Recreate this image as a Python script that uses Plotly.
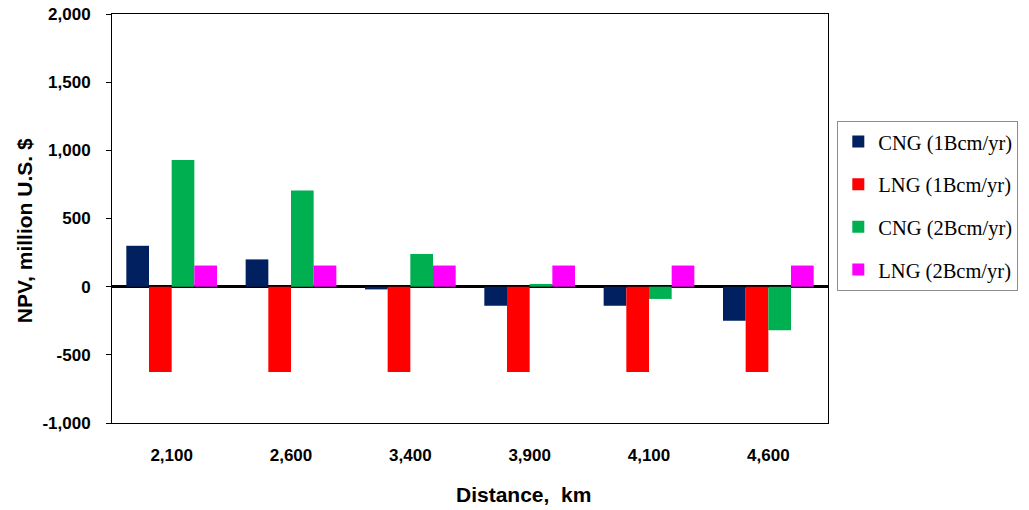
import plotly.graph_objects as go

categories = ["2,100", "2,600", "3,400", "3,900", "4,100", "4,600"]
cng_1 = [300, 200, -20, -140, -140, -250]
lng_1 = [-625, -625, -625, -625, -625, -625]
cng_2 = [930, 705, 240, 20, -90, -320]
lng_2 = [155, 155, 155, 155, 155, 155]
series_names = ["CNG (1Bcm/yr)", "LNG (1Bcm/yr)", "CNG (2Bcm/yr)", "LNG (2Bcm/yr)"]
colors = ["#002060", "#FF0000", "#00B050", "#FF00FF"]
y_tickvals = [-1000, -500, 0, 500, 1000, 1500, 2000]
y_ticktext = ["-1,000", "-500", "0", "500", "1,000", "1,500", "2,000"]
x_title = "Distance,  km"
y_title = "NPV, million U.S. $"

fig = go.Figure()
for name, vals, col in zip(series_names, [cng_1, lng_1, cng_2, lng_2], colors):
    fig.add_trace(go.Bar(x=categories, y=vals, name=name, marker_color=col,
                         marker_line_width=0, legendgroup=name))

fig.update_layout(
    width=1029, height=510,
    margin=dict(l=112, r=201, t=14, b=87, autoexpand=False),
    paper_bgcolor="white", plot_bgcolor="white",
    barmode="group", bargap=0.24, bargroupgap=0,
    font=dict(family="Liberation Sans, Arial", color="black"),
    legend=dict(x=1.013, y=0.739, xanchor="left", yanchor="top",
                bordercolor="#8c8c8c", borderwidth=1,
                font=dict(family="Liberation Serif, Times New Roman", size=20.5, color="black"),
                tracegroupgap=13, itemwidth=30),
    showlegend=True,
)
fig.update_xaxes(
    showline=True, linecolor="black", linewidth=1, mirror=True,
    ticks="", showgrid=False, ticklabelstandoff=17,
    tickfont=dict(size=17, family="Liberation Sans, Arial", weight="bold"),
)
fig.update_yaxes(
    range=[-1000, 2000], tickvals=y_tickvals, ticktext=y_ticktext,
    showline=True, linecolor="black", linewidth=1, mirror=True,
    ticks="outside", ticklen=5, tickcolor="black", showgrid=False,
    ticklabelstandoff=12,
    zeroline=True, zerolinecolor="black", zerolinewidth=2.5,
    tickfont=dict(size=17, family="Liberation Sans, Arial", weight="bold"),
)
fig.add_annotation(text=x_title, xref="paper", yref="paper", x=0.575, y=-0.174,
                   xanchor="center", yanchor="middle", showarrow=False,
                   font=dict(size=21, family="Liberation Sans, Arial", weight="bold", color="black"))
fig.add_annotation(text=y_title, xref="paper", yref="paper", x=-0.1229, y=0.469,
                   xanchor="center", yanchor="middle", showarrow=False, textangle=-90,
                   font=dict(size=21, family="Liberation Sans, Arial", weight="bold", color="black"))
fig.write_html("out.html")
